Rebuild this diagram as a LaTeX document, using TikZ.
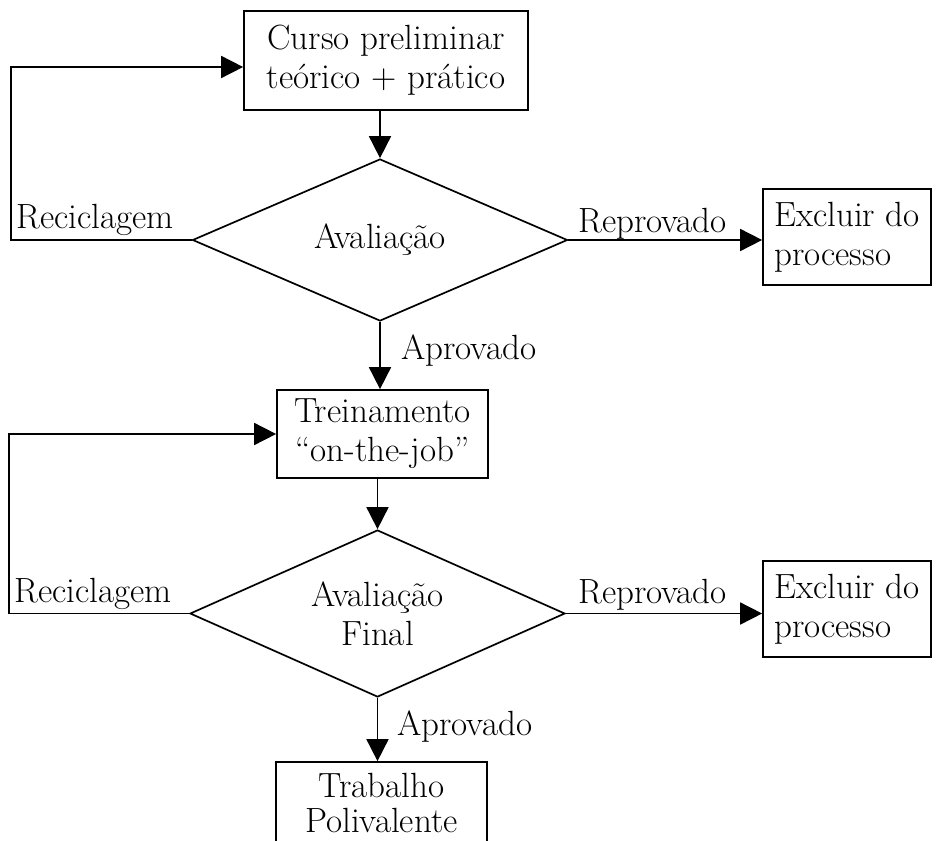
\documentclass[tikz,border=0pt]{standalone}
\usetikzlibrary{arrows.meta,shapes.geometric}
\begin{document}
\begin{tikzpicture}[x=1pt,y=-1pt,
  every node/.style={font=\fontsize{35}{39}\selectfont},
  stepbox/.style={draw, line width=1.7pt, rectangle, inner sep=0pt, align=center},
  decision/.style={draw, line width=1.7pt, diamond, aspect=2.3, inner sep=0pt, align=center},
  flow/.style={line width=1.7pt, -{Triangle[length=22pt,width=22pt]}},
  lbl/.style={inner sep=0pt, anchor=base west}]
\useasboundingbox (0,0) rectangle (936,840);

% process boxes and decisions
\node[stepbox, minimum width=284pt, minimum height=99pt] (curso) at (386,60.5) {Curso preliminar\\teórico + prático};
\node[decision, minimum width=375pt, minimum height=162pt] (aval) at (380,240) {Avaliação};
\node[stepbox, minimum width=168pt, minimum height=96pt, align=left] (excl1) at (847,237) {Excluir do\\processo};
\node[stepbox, minimum width=211pt, minimum height=88pt] (trein) at (382.5,434) {Treinamento\\“on-the-job”};
\node[decision, minimum width=375pt, minimum height=167pt] (avalf) at (377.5,613.5) {Avaliação\\Final};
\node[stepbox, minimum width=168pt, minimum height=96pt, align=left] (excl2) at (847,609) {Excluir do\\processo};
\node[stepbox, minimum width=211pt, minimum height=81pt, font=\fontsize{35}{35}\selectfont] (trab) at (381.5,802.5) {Trabalho\\Polivalente};

% corners of the feedback loops
\coordinate (loop1) at (11,240);
\coordinate (loop2) at (9,613.5);

% connectors
\draw[flow] (curso.south -| aval.north) -- (aval.north);
\draw[flow] (aval.east) -- (aval.east -| excl1.west);
\draw[flow] (aval.south) -- (aval.south |- trein.north);
\draw[flow] (aval.west) -- (loop1) |- ([yshift=-6.5pt]curso.west);
\draw[flow] (trein.south -| avalf.north) -- (avalf.north);
\draw[flow] (avalf.east) -- (avalf.east -| excl2.west);
\draw[flow] (avalf.south) -- (avalf.south |- trab.north);
\draw[flow] (avalf.west) -- (loop2) |- (trein.west);

% connector labels
\node[lbl] (rec1) at (16,228) {Reciclagem};
\node[lbl] (rep1) at (578,232) {Reprovado};
\node[lbl] (apr1) at (401,359) {Aprovado};
\node[lbl] (rec2) at (14,602) {Reciclagem};
\node[lbl] (rep2) at (578,603) {Reprovado};
\node[lbl] (apr2) at (397,735) {Aprovado};
\end{tikzpicture}
\end{document}
